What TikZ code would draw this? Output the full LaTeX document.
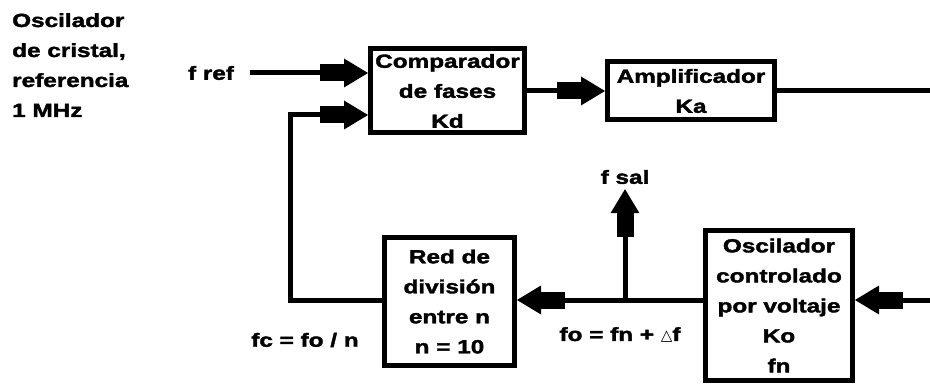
\documentclass[tikz,border=0pt]{standalone}
\usepackage{fontspec}
\usepackage{tikz}
\usetikzlibrary{arrows.meta,positioning}
\newfontfamily\lblfont{Liberation Sans}[FakeStretch=1.28,FakeBold=2]
\newfontfamily\symfont{DejaVu Sans}
\newcommand{\lblsize}{\fontsize{19}{30}\selectfont\lblfont\bfseries}

\begin{document}
\begin{tikzpicture}[
    x=1pt, y=-1pt,
    blk/.style={draw,line width=5pt,align=center,font=\lblsize,inner sep=0pt},
    lbl/.style={font=\lblsize,inner sep=0pt},
    wire/.style={line width=5pt},
    flow/.style={line width=5pt,-{Rectangle[length=24pt,width=17pt,line width=0pt,sep=0pt] Triangle[length=24pt,width=29pt,line width=0pt]}}
]
\useasboundingbox (0,0) rectangle (930,385);
\node[lbl,anchor=north west,align=left] (xtal) at (12,13) {Oscilador\\de cristal,\\referencia\\1 MHz};
\node[lbl] (fref) at (211,73) {f ref};
\node[blk,minimum width=154pt,minimum height=84pt] (cmp) at (447.5,91) {Comparador\\de fases\\Kd};
\node[blk,minimum width=167pt,minimum height=58pt] (amp) at (691,91) {Amplificador\\Ka};
\node[blk,minimum width=130pt,minimum height=128pt] (red) at (449.5,301.5) {Red de\\división\\entre n\\n = 10};
\node[blk,minimum width=147pt,minimum height=150pt] (vco) at (779,305.5) {Oscilador\\controlado\\por voltaje\\Ko\\fn};
\node[lbl] (fsal) at (625,177) {f sal};
\node[lbl] (fc) at (305,340) {fc = fo / n};
\node[lbl] (fo) at (620,335) {fo = fn + {\symfont\fontsize{15}{15}\selectfont △}f};
\coordinate (fbk) at (290,115);
\coordinate (tap) at (625,300);
\coordinate (rout) at (930,91);
\coordinate (rin) at (930,300);
\draw[flow,shorten <=16pt] (fref.east) -- (cmp.west |- fref);
\draw[flow] (red.west |- tap) -| (fbk) -- (cmp.west |- fbk);
\draw[flow] (cmp.east) -- (amp.west);
\draw[wire] (amp.east) -- (rout);
\draw[flow] (rin) -- (vco.east |- rin);
\draw[flow] (vco.west |- tap) -- (red.east |- tap);
\draw[flow,shorten >=5pt] (tap) -- (fsal.south);
\end{tikzpicture}
\end{document}
